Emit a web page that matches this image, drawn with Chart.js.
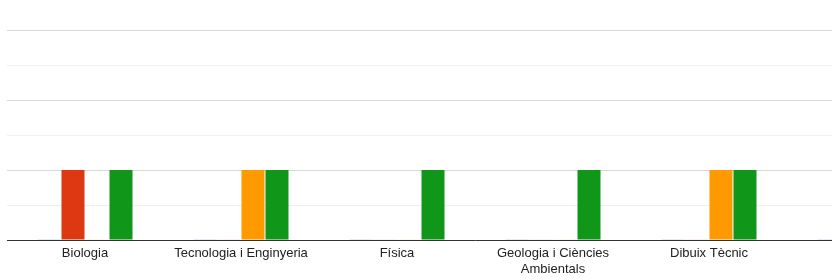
<!DOCTYPE html>
<html>
<head>
<meta charset="utf-8">
<script src="https://cdn.jsdelivr.net/npm/chart.js@4"></script>
<style>
  html, body { margin: 0; padding: 0; background: #fff; }
  #wrap { width: 832px; height: 280px; overflow: hidden; position: relative; }
  canvas { display: block; }
</style>
</head>
<body>
<div id="wrap"><canvas id="c" width="943" height="280"></canvas></div>
<script>
const categories = ['Biologia', 'Tecnologia i Enginyeria', 'Física', ['Geologia i Ciències', 'Ambientals'], 'Dibuix Tècnic', ''];
const seriesBlue   = [0, 0, 0, 0, 0, 0];
const seriesRed    = [1, 0, 0, 0, 0, 0];
const seriesOrange = [0, 1, 0, 0, 1, 0];
const seriesGreen  = [1, 1, 1, 1, 1, 0];
const yMin = 0, yMax = 3, yStep = 0.5;

function ds(data, color, faint) {
  return {
    data: data,
    backgroundColor: (ctx) => (ctx.raw === 0 ? faint : color),
    borderWidth: 0,
    minBarLength: 1,
    categoryPercentage: 96 / 156,
    barPercentage: 23 / 24
  };
}

new Chart(document.getElementById('c'), {
  type: 'bar',
  data: {
    labels: categories,
    datasets: [
      ds(seriesBlue, '#3366cc', 'rgba(51,102,204,0.25)'),
      ds(seriesRed, '#dc3912', 'rgba(220,57,18,0.15)'),
      ds(seriesOrange, '#ff9900', 'rgba(255,153,0,0.15)'),
      ds(seriesGreen, '#109618', 'rgba(16,150,24,0.15)')
    ]
  },
  options: {
    responsive: false,
    devicePixelRatio: 1,
    animation: false,
    layout: { padding: { left: 7, right: 0, top: 30, bottom: 0 } },
    plugins: { legend: { display: false }, tooltip: { enabled: false } },
    scales: {
      x: {
        grid: { display: false, drawTicks: false },
        border: { display: true, color: '#333333', width: 1 },
        ticks: {
          color: '#222222',
          font: { family: "'Liberation Sans', Arial, sans-serif", size: 13 },
          padding: 6,
          maxRotation: 0,
          autoSkip: false
        },
        afterFit: (s) => { s.height = 40; }
      },
      y: {
        min: yMin,
        max: yMax,
        ticks: { display: false, stepSize: yStep },
        border: { display: false },
        grid: {
          drawTicks: false,
          color: (ctx) => (Number.isInteger(ctx.tick.value) ? '#d9d9d9' : '#efefef'),
          lineWidth: 1
        },
        afterFit: (s) => { s.width = 0; }
      }
    }
  }
});
</script>
</body>
</html>
